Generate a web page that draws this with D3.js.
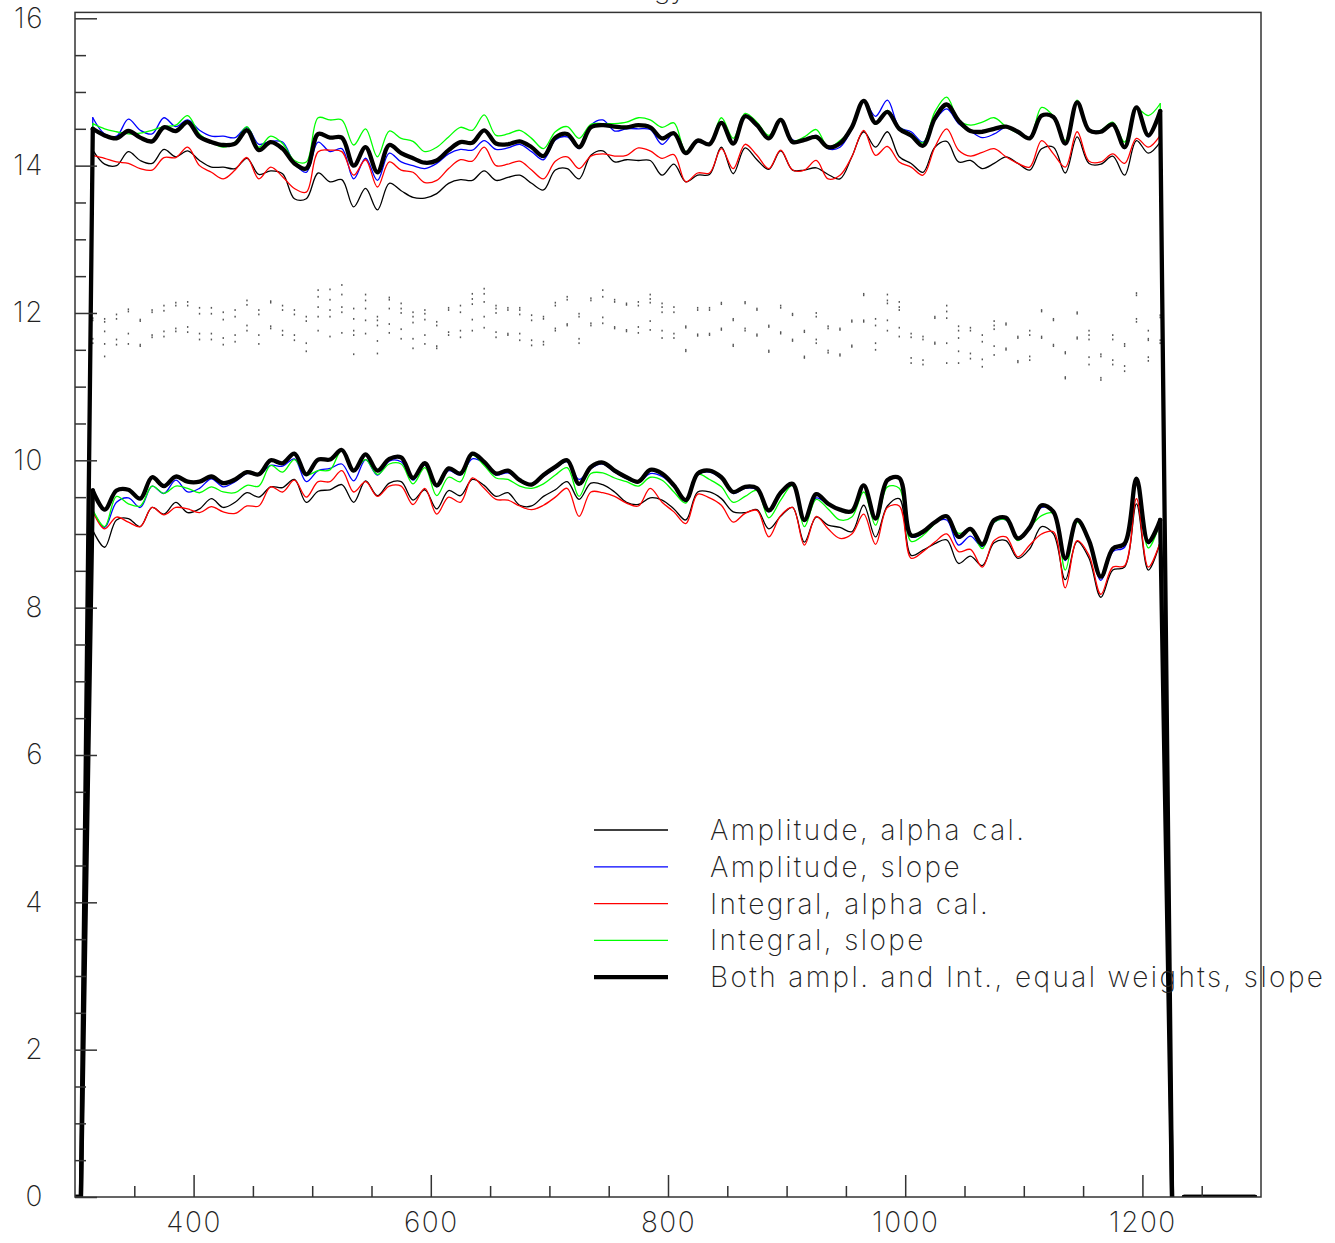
<!DOCTYPE html>
<html>
<head>
<meta charset="utf-8">
<script src="https://cdn.jsdelivr.net/npm/d3@7"></script>
<style>
  body { margin: 0; background: #fff; }
  text { font-family: Inter, "Noto Sans", sans-serif; font-weight: 200; fill: #222; }
</style>
</head>
<body>
<svg id="chart" width="1335" height="1243"></svg>
<script>
// Bin centres (energy axis), 10-unit bins from 295 to 1295
const binCenters = d3.range(295, 1300, 10);

// Empty bins outside the populated range
const emptyLeft = [0, 0];
const emptyRight = [0, 0, 0, 0, 0, 0, 0, 0];

// Upper peak, bins 315 .. 1215
const ampAlphaHi = [14.21,14.02,14.00,14.19,14.07,14.03,14.22,14.12,14.20,14.07,13.98,13.98,13.96,14.10,13.88,13.93,13.89,13.55,13.55,13.90,13.78,13.81,13.44,13.69,13.40,13.76,13.66,
  13.57,13.56,13.62,13.76,13.81,13.80,13.93,13.80,13.84,13.87,13.76,13.67,13.94,13.96,13.82,14.14,14.20,14.05,14.08,14.07,14.07,13.87,14.02,13.78,13.87,13.88,14.25,13.89,14.24,14.08,13.95,14.20,13.94,
  13.94,13.97,13.88,13.82,14.12,14.46,14.25,14.46,14.12,14.03,13.91,14.25,14.33,14.05,14.07,13.96,14.03,14.12,14.03,13.94,14.23,14.25,13.90,14.39,14.03,14.02,14.13,13.87,14.34,14.17,14.32];
const ampSlopeHi = [14.65,14.43,14.40,14.63,14.48,14.43,14.65,14.53,14.62,14.48,14.40,14.40,14.38,14.52,14.29,14.33,14.32,14.03,13.91,14.32,14.19,14.23,13.82,14.10,13.80,14.17,14.05,
  14.00,13.96,14.03,14.16,14.22,14.21,14.34,14.22,14.24,14.29,14.19,14.08,14.35,14.39,14.23,14.55,14.62,14.47,14.50,14.50,14.49,14.29,14.43,14.16,14.32,14.29,14.57,14.30,14.66,14.53,14.38,14.61,14.35,
  14.35,14.41,14.23,14.25,14.50,14.88,14.67,14.89,14.52,14.46,14.32,14.61,14.77,14.57,14.47,14.38,14.43,14.52,14.44,14.37,14.68,14.66,14.29,14.86,14.47,14.48,14.56,14.23,14.79,14.39,14.73];
const intAlphaHi = [14.14,14.10,14.05,14.03,13.96,13.94,14.11,14.11,14.25,14.00,13.91,13.82,13.94,14.11,13.82,13.98,13.85,13.69,13.64,14.19,14.21,14.19,13.87,14.08,13.71,14.05,13.94,
  13.91,13.77,13.80,13.96,14.08,14.06,14.25,14.00,14.02,14.06,13.94,13.82,14.06,14.12,13.96,14.13,14.16,14.13,14.14,14.24,14.20,14.10,14.15,13.78,13.90,13.90,14.23,13.96,14.29,14.14,13.96,14.21,13.94,
  13.94,14.07,13.82,13.87,14.12,14.48,14.14,14.26,14.05,13.98,13.87,14.25,14.50,14.21,14.13,14.18,14.23,14.12,14.03,13.98,14.34,14.16,13.98,14.46,14.06,14.05,14.16,14.03,14.37,14.25,14.41];
const intSlopeHi = [14.57,14.50,14.46,14.43,14.44,14.48,14.53,14.55,14.68,14.43,14.32,14.25,14.32,14.53,14.25,14.40,14.30,14.07,14.05,14.65,14.62,14.62,14.28,14.50,14.12,14.47,14.37,
  14.33,14.19,14.25,14.39,14.52,14.48,14.69,14.41,14.43,14.48,14.37,14.23,14.46,14.53,14.37,14.56,14.57,14.57,14.59,14.65,14.62,14.52,14.58,14.19,14.34,14.30,14.65,14.37,14.71,14.59,14.41,14.64,14.34,
  14.39,14.49,14.25,14.34,14.50,14.89,14.56,14.75,14.52,14.43,14.31,14.73,14.93,14.62,14.55,14.59,14.65,14.53,14.44,14.38,14.79,14.67,14.34,14.89,14.48,14.48,14.59,14.32,14.77,14.68,14.84];
const bothHi = [14.50,14.41,14.37,14.47,14.38,14.33,14.52,14.47,14.59,14.39,14.32,14.28,14.30,14.48,14.21,14.32,14.23,14.03,13.96,14.43,14.38,14.38,14.00,14.25,13.91,14.28,14.17,
  14.10,14.04,14.07,14.21,14.32,14.31,14.48,14.30,14.29,14.33,14.25,14.13,14.38,14.43,14.25,14.52,14.55,14.53,14.52,14.55,14.52,14.37,14.44,14.17,14.34,14.29,14.58,14.30,14.67,14.55,14.37,14.62,14.32,
  14.35,14.39,14.25,14.30,14.52,14.88,14.58,14.73,14.50,14.41,14.27,14.64,14.83,14.61,14.47,14.46,14.50,14.53,14.46,14.37,14.68,14.66,14.30,14.86,14.48,14.46,14.56,14.25,14.79,14.41,14.74];

// Lower peak, bins 315 .. 1215
const ampAlphaLo = [9.05,8.82,9.19,9.21,9.10,9.36,9.27,9.43,9.29,9.34,9.48,9.36,9.43,9.56,9.50,9.64,9.63,9.74,9.43,9.58,9.60,9.67,9.43,9.72,9.52,9.69,9.71,9.46,9.60,9.34,9.59,
  9.52,9.74,9.66,9.51,9.56,9.39,9.38,9.51,9.60,9.71,9.47,9.69,9.67,9.57,9.43,9.40,9.49,9.46,9.34,9.19,9.57,9.57,9.48,9.30,9.29,9.33,9.07,9.24,9.36,8.89,9.23,9.12,9.09,9.03,9.39,8.96,9.38,9.48,
  8.71,8.78,8.87,8.92,8.60,8.70,8.57,8.88,8.91,8.67,8.80,9.10,9.00,8.38,8.90,8.67,8.14,8.51,8.55,9.41,8.51,8.89];
const ampSlopeLo = [9.32,9.09,9.43,9.49,9.36,9.65,9.55,9.73,9.57,9.62,9.75,9.64,9.71,9.82,9.80,9.93,9.92,10.02,9.71,9.86,9.89,9.95,9.72,10.01,9.80,9.99,9.98,9.73,9.94,9.64,9.86,
  9.80,10.02,9.96,9.80,9.83,9.72,9.66,9.78,9.89,9.98,9.74,9.89,9.95,9.84,9.75,9.70,9.82,9.78,9.64,9.44,9.80,9.84,9.75,9.55,9.62,9.60,9.30,9.54,9.66,9.17,9.49,9.40,9.32,9.30,9.66,9.20,9.72,9.75,
  8.96,9.01,9.16,9.19,8.85,8.97,8.83,9.16,9.19,8.92,9.07,9.36,9.32,8.64,9.19,8.89,8.37,8.76,8.82,9.73,8.87,9.19];
const intAlphaLo = [9.31,9.07,9.23,9.16,9.10,9.36,9.26,9.36,9.34,9.29,9.37,9.30,9.28,9.38,9.38,9.64,9.57,9.73,9.50,9.71,9.71,9.86,9.57,9.71,9.51,9.65,9.65,9.40,9.62,9.27,9.50,
  9.43,9.76,9.62,9.47,9.46,9.38,9.33,9.39,9.50,9.62,9.24,9.57,9.56,9.51,9.42,9.38,9.62,9.43,9.30,9.14,9.54,9.49,9.39,9.16,9.28,9.32,8.96,9.25,9.36,8.85,9.24,9.07,8.94,9.00,9.27,8.86,9.36,9.38,
  8.67,8.76,8.89,9.00,8.76,8.79,8.55,8.91,8.96,8.69,8.85,9.00,9.03,8.27,8.91,8.71,8.18,8.55,8.57,9.48,8.55,8.89];
const intSlopeLo = [9.33,9.10,9.51,9.41,9.38,9.65,9.55,9.65,9.62,9.56,9.64,9.57,9.56,9.66,9.65,9.93,9.84,10.01,9.80,9.86,9.87,10.14,9.86,10.01,9.81,9.95,9.95,9.68,9.90,9.52,9.77,
  9.71,10.07,9.93,9.76,9.74,9.65,9.62,9.68,9.80,9.90,9.51,9.82,9.83,9.76,9.71,9.65,9.77,9.73,9.57,9.42,9.81,9.74,9.64,9.43,9.51,9.59,9.22,9.46,9.66,9.10,9.47,9.34,9.19,9.23,9.57,9.12,9.64,9.62,
  8.90,8.98,9.14,9.25,9.01,9.05,8.80,9.16,9.19,8.91,9.09,9.25,9.28,8.51,9.16,8.89,8.42,8.79,8.86,9.71,8.81,9.16];
const bothLo = [9.59,9.33,9.59,9.60,9.48,9.77,9.65,9.78,9.71,9.71,9.78,9.69,9.74,9.84,9.81,10.00,9.96,10.09,9.81,10.01,10.01,10.14,9.86,10.08,9.86,10.02,10.04,9.76,9.96,9.66,9.89,
  9.82,10.09,9.98,9.82,9.86,9.73,9.67,9.80,9.91,10.00,9.68,9.91,9.97,9.86,9.77,9.71,9.87,9.82,9.66,9.46,9.82,9.86,9.77,9.57,9.64,9.62,9.32,9.56,9.68,9.19,9.54,9.41,9.33,9.31,9.66,9.21,9.73,9.76,
  8.98,9.03,9.16,9.24,8.96,9.07,8.86,9.19,9.22,8.94,9.09,9.39,9.30,8.67,9.19,8.91,8.42,8.80,8.87,9.75,8.89,9.19];

// Point markers between the two peaks, one value per bin 315 .. 1215 (null = no marker)
const dotsA = [11.93,11.92,11.98,12.05,11.91,12.04,12.10,12.14,12.15,12.07,12.07,12.01,12.04,12.17,12.04,12.16,12.10,12.04,11.95,12.31,12.32,12.38,12.06,12.25,11.95,12.21,12.13,12.01,12.04,11.88,12.07,
  12.10,12.26,12.33,12.10,12.07,12.07,11.97,11.95,12.14,12.22,11.99,12.20,12.31,12.18,12.13,12.15,12.25,12.13,12.08,11.82,12.07,12.07,12.14,11.92,12.15,12.06,11.83,12.10,11.99,11.76,12.00,11.82,11.79,11.90,12.26,11.92,12.25,12.15,
  11.72,11.68,11.95,12.10,11.82,11.80,11.70,11.89,11.86,11.68,11.76,12.04,11.92,11.47,12.01,11.76,11.44,11.70,11.58,12.27,11.76,11.97];
const dotsB = [11.90,11.88,11.92,12.02,11.89,12.01,12.03,12.10,12.10,11.99,11.99,11.91,11.95,12.11,11.98,12.14,12.04,11.98,11.89,12.22,12.18,12.25,11.92,12.17,11.90,12.18,12.06,11.95,11.99,11.83,12.04,
  12.01,12.19,12.26,12.06,12.04,12.04,11.90,11.92,12.10,12.18,11.95,12.17,12.22,12.15,12.11,12.10,12.19,12.08,12.01,11.80,12.04,12.04,12.12,11.90,12.13,12.04,11.81,12.07,11.97,11.74,11.95,11.79,11.77,11.88,12.24,11.83,12.17,12.08,
  11.67,11.64,11.93,12.02,11.76,11.76,11.61,11.83,11.84,11.66,11.70,12.02,11.90,11.45,11.99,11.70,11.41,11.64,11.55,12.24,11.65,11.94];
const dotsC = [11.65,11.58,11.64,11.72,11.57,11.70,11.75,11.79,11.81,11.72,11.72,11.66,11.70,11.83,11.70,11.82,11.76,11.70,11.59,11.95,11.95,12.01,11.70,11.90,11.62,11.85,11.78,11.65,11.70,11.55,11.74,
  11.76,11.91,11.95,11.74,11.72,11.72,11.63,11.61,11.79,11.85,11.65,11.86,11.94,11.81,11.77,11.81,11.89,11.76,11.72,11.50,11.71,11.72,11.79,11.57,11.79,11.71,11.49,11.74,11.64,11.41,11.64,11.49,11.44,11.56,11.90,11.59,11.90,11.80,
  11.39,11.36,11.60,11.59,11.48,11.45,11.37,11.55,11.52,11.35,11.41,11.68,11.57,11.13,11.67,11.40,11.12,11.36,11.28,11.92,11.40,11.63];
const dotsD = [11.59,11.41,11.57,11.58,11.55,11.67,11.68,11.75,11.74,11.64,11.64,11.57,11.61,11.76,11.58,11.79,11.70,11.63,11.48,11.76,11.68,11.73,11.44,11.72,11.45,11.73,11.65,11.52,11.58,11.52,11.70,
  11.67,11.76,11.80,11.67,11.70,11.63,11.56,11.57,11.76,11.83,11.59,11.83,11.86,11.79,11.75,11.73,11.77,11.66,11.66,11.48,11.69,11.70,11.77,11.55,11.76,11.69,11.47,11.72,11.62,11.39,11.59,11.46,11.42,11.54,11.88,11.50,11.76,11.68,
  11.32,11.30,11.58,11.32,11.32,11.38,11.27,11.43,11.50,11.33,11.36,11.66,11.55,11.11,11.65,11.30,11.09,11.30,11.21,11.88,11.35,11.59];
const dotsE = [null,11.75,null,null,null,null,null,null,null,null,null,null,null,null,null,null,null,null,null,12.08,12.04,12.08,11.76,12.06,11.83,12.06,12.00,11.87,11.91,null,null,
  null,12.12,12.15,12.00,null,11.98,null,null,null,null,null,null,null,null,null,null,12.14,12.01,null,null,null,null,null,null,null,null,null,null,null,null,null,null,null,null,null,null,12.13,12.04,
  null,null,null,11.93,11.66,null,null,11.78,null,null,null,null,null,null,null,11.64,null,null,null,null,11.63,null];

const seriesNames = ["Amplitude, alpha cal.", "Amplitude, slope", "Integral, alpha cal.", "Integral, slope",
                     "Both ampl. and Int., equal weights, slope"];
const seriesColors = ["#000000", "#0000ff", "#ff0000", "#00ff00", "#000000"];
const seriesWidths = [1.3, 1.3, 1.3, 1.3, 4.3];
const seriesHi = [ampAlphaHi, ampSlopeHi, intAlphaHi, intSlopeHi, bothHi];
const seriesLo = [ampAlphaLo, ampSlopeLo, intAlphaLo, intSlopeLo, bothLo];

const xMajor = [400, 600, 800, 1000, 1200];
const xMinor = [350, 450, 500, 550, 650, 700, 750, 850, 900, 950, 1050, 1100, 1150, 1250];
const yMajor = [0, 2, 4, 6, 8, 10, 12, 14, 16];
const yMinor = [0.5,1,1.5,2.5,3,3.5,4.5,5,5.5,6.5,7,7.5,8.5,9,9.5,10.5,11,11.5,12.5,13,13.5,14.5,15,15.5];

const svg = d3.select("#chart");
const x = d3.scaleLinear().domain([300, 1300]).range([75, 1261]);
const y = d3.scaleLinear().domain([0, 16]).range([1197, 18.3]);
const yTop = 16.08;

// Title (sits mostly above the visible area)
svg.append("text").attr("x", 686).attr("y", -2.5).attr("text-anchor", "end")
  .style("font-size", "28px").text("Energy");

svg.append("clipPath").attr("id", "plotArea").append("rect")
  .attr("x", x(300)).attr("y", y(yTop)).attr("width", x(1300) - x(300)).attr("height", y(0) - y(yTop));

const plot = svg.append("g").attr("clip-path", "url(#plotArea)");

// Point markers
const dotSets = [dotsA, dotsB, dotsC, dotsD, dotsE];
const binsInner = binCenters.slice(emptyLeft.length, emptyLeft.length + dotsA.length);
dotSets.forEach(set => {
  plot.append("g").selectAll("rect")
    .data(set.map((v, i) => ({ e: binsInner[i], v })).filter(d => d.v !== null))
    .join("rect")
    .attr("x", d => x(d.e) - 0.7).attr("y", d => y(d.v) - 0.9)
    .attr("width", 1.4).attr("height", 1.8)
    .attr("fill", "#555");
});

// Curves: smooth spline across the populated bins, straight edges down to the empty bins
const smooth = d3.line().x(d => x(d.e)).y(d => y(d.v)).curve(d3.curveCatmullRom.alpha(0.5));
const straight = d3.line().x(d => x(d.e)).y(d => y(d.v));

[0, 1, 2, 3, 4].forEach(s => {
  [seriesHi[s], seriesLo[s]].forEach(vals => {
    const pts = [...emptyLeft, ...vals, ...emptyRight].map((v, i) => ({ e: binCenters[i], v }));
    const first = emptyLeft.length, last = emptyLeft.length + vals.length - 1;
    const pieces = [
      [straight, pts.slice(0, first + 1)],          // empty bins + rising edge
      [smooth, pts.slice(first, last + 1)],         // populated bins
      [straight, pts.slice(last, last + 2)],        // falling edge
      [straight, pts.slice(last + 2)]               // empty bins on the right
    ];
    pieces.forEach(([gen, data]) => {
      plot.append("path").datum(data)
        .attr("fill", "none")
        .attr("stroke", seriesColors[s])
        .attr("stroke-width", seriesWidths[s])
        .attr("stroke-linejoin", "round")
        .attr("stroke-linecap", "round")
        .attr("d", gen);
    });
  });
});

// Frame
svg.append("rect")
  .attr("x", x(300)).attr("y", y(yTop)).attr("width", x(1300) - x(300)).attr("height", y(0) - y(yTop))
  .attr("fill", "none").attr("stroke", "#333").attr("stroke-width", 1.5);

// Axes with inward ticks
const axisStyle = g => {
  g.select(".domain").remove();
  g.selectAll(".tick line").attr("stroke", "#333").attr("stroke-width", 1.5);
  g.selectAll(".tick text").style("font-size", "28px").style("font-family", "Inter, 'Noto Sans', sans-serif")
    .style("font-weight", 200).attr("fill", "#222").style("letter-spacing", "1.5px");
};

svg.append("g").attr("transform", `translate(${x(300)},0)`)
  .call(d3.axisLeft(y).tickValues(yMajor).tickSize(-22).tickPadding(31).tickFormat(d3.format("d")))
  .call(axisStyle);
svg.append("g").attr("transform", `translate(${x(300)},0)`)
  .call(d3.axisLeft(y).tickValues(yMinor).tickSize(-11).tickFormat(""))
  .call(axisStyle);

svg.append("g").attr("transform", `translate(0,${y(0)})`)
  .call(d3.axisBottom(x).tickValues(xMajor).tickSize(-22).tickPadding(15).tickFormat(d3.format("d")))
  .call(axisStyle);
svg.append("g").attr("transform", `translate(0,${y(0)})`)
  .call(d3.axisBottom(x).tickValues(xMinor).tickSize(-11).tickFormat(""))
  .call(axisStyle);

// Legend
const legend = svg.append("g");
seriesNames.forEach((name, i) => {
  const ly = 830 + i * 36.8;
  legend.append("line").attr("x1", 594).attr("x2", 668).attr("y1", ly).attr("y2", ly)
    .attr("stroke", seriesColors[i]).attr("stroke-width", seriesWidths[i]);
  legend.append("text").attr("x", 710).attr("y", ly).attr("dy", "0.36em")
    .style("font-size", "28px").style("letter-spacing", "2.4px").text(name);
});
</script>
</body>
</html>
